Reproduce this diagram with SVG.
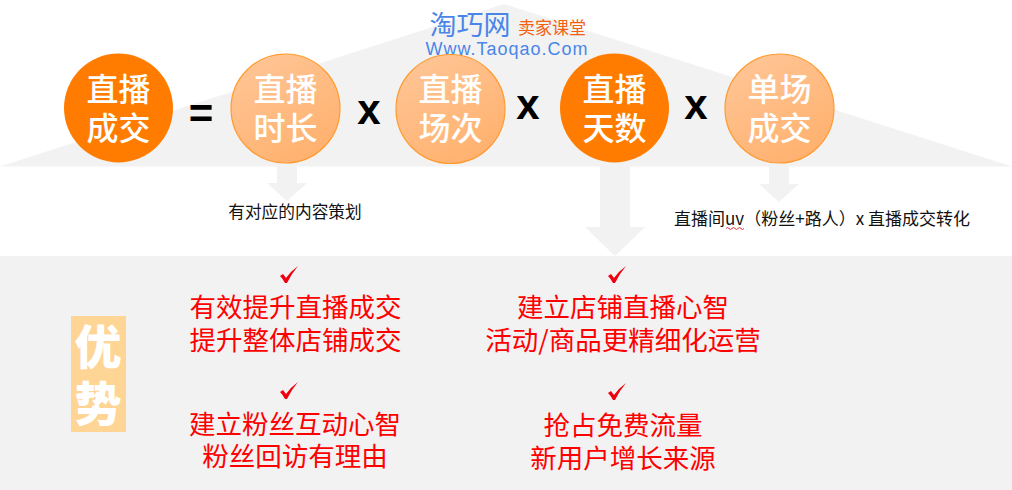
<svg xmlns="http://www.w3.org/2000/svg" width="1012" height="490" viewBox="0 0 1012 490">
<style>
text{font-family:"Noto Sans CJK SC","Liberation Sans",sans-serif;text-anchor:middle}
.cw{font-size:32px;font-weight:500;fill:#fff}
.op{font-family:"Liberation Sans",sans-serif;font-weight:700;font-size:42px;fill:#000}
.red{font-size:26.500px;font-weight:400;fill:#f00}
.blk{fill:#111}
.sd{fill:#ff7c00}
.lt{fill:url(#lg);stroke:#ff9a2e;stroke-width:1.2}
.ar{fill:#f2f2f2}
.ck{fill:#f0000f}
</style>
<defs>
<linearGradient id="lg" x1="0.2" y1="0" x2="0.8" y2="1"><stop offset="0" stop-color="#ffc596"/><stop offset="1" stop-color="#ffb06c"/></linearGradient>
<path id="check" d="M-9 1 L-6 -1 L-3 3 Q2 -4 9 -9 Q3 -2 -2 8 L-4 8 Q-6 4 -9 1 Z"/>
</defs>
<rect width="1012" height="490" fill="#fff"/>
<path class="ar" d="M0 166.500 L504 4 L1012 166.500 Z"/>
<rect class="ar" y="256" width="1012" height="234"/>
<g id="connectors">
<path class="ar" d="M277 166H297V183H307L287 201L267 183H277Z"/>
<path class="ar" d="M600 166H630V227H645L615 256L585 227H600Z"/>
<path class="ar" d="M769 166H789V184H799L779 202L759 184H769Z"/>
</g>
<g id="logo">
<text x="470" y="35" style="font-size:27px;font-weight:400;fill:#4a86e8">淘巧网</text>
<text x="552" y="34" style="font-size:17px;fill:#f4600f">卖家课堂</text>
<text x="507" y="55" style="font-family:'Liberation Sans',sans-serif;font-size:18px;fill:#4a86e8;letter-spacing:1px">Www.Taoqao.Com</text>
</g>
<g id="n1"><circle class="sd" cx="118.500" cy="108" r="54.500"/><text class="cw" x="118.500" y="101">直播<tspan x="118.500" dy="38.500">成交</tspan></text></g>
<g id="op1"><text class="op" x="201" y="128">=</text></g>
<g id="n2"><circle class="lt" cx="285.500" cy="108.500" r="54.500"/><text class="cw" x="285.500" y="101">直播<tspan x="285.500" dy="38.500">时长</tspan></text></g>
<g id="op2"><text class="op" x="369" y="124">x</text></g>
<g id="n3"><circle class="lt" cx="450.500" cy="109" r="54.500"/><text class="cw" x="450.500" y="101">直播<tspan x="450.500" dy="38.500">场次</tspan></text></g>
<g id="op3"><text class="op" x="528" y="119">x</text></g>
<g id="n4"><circle class="sd" cx="614.500" cy="108" r="54.500"/><text class="cw" x="614.500" y="101">直播<tspan x="614.500" dy="38.500">天数</tspan></text></g>
<g id="op4"><text class="op" x="696" y="119">x</text></g>
<g id="n5"><circle class="lt" cx="779.500" cy="108.500" r="54.500"/><text class="cw" x="779.500" y="101">单场<tspan x="779.500" dy="38.500">成交</tspan></text></g>
<g id="t1"><text class="blk" x="295" y="218" style="font-size:16.700px">有对应的内容策划</text></g>
<g id="t2"><text class="blk" x="822" y="225" style="font-size:17px">直播间uv（粉丝+路人）x 直播成交转化</text>
<path d="M726 228.500q1.500 -2 3 0t3 0t3 0t3 0t3 0t3 0" fill="none" stroke="#e0303a" stroke-width="1"/></g>
<g id="adv"><rect x="71" y="316" width="55" height="116" fill="#ffd596"/>
<text x="98" y="364" style="font-size:47px;font-weight:900;fill:#fff">优<tspan x="98" dy="57">势</tspan></text></g>
<g id="b1"><use href="#check" class="ck" x="289" y="275"/><text class="red" x="295.500" y="317">有效提升直播成交<tspan x="295.500" dy="33">提升整体店铺成交</tspan></text></g>
<g id="b2"><use href="#check" class="ck" x="289" y="391"/><text class="red" x="295" y="434">建立粉丝互动心智<tspan x="295" dy="32">粉丝回访有理由</tspan></text></g>
<g id="b3"><use href="#check" class="ck" x="617" y="275"/><text class="red" x="623" y="317">建立店铺直播心智<tspan x="623" dy="33">活动/商品更精细化运营</tspan></text></g>
<g id="b4"><use href="#check" class="ck" x="617" y="392"/><text class="red" x="623" y="435">抢占免费流量<tspan x="623" dy="33">新用户增长来源</tspan></text></g>
</svg>
